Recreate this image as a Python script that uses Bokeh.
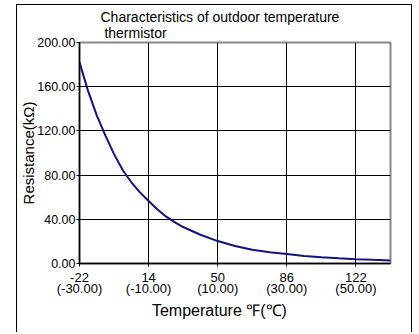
from bokeh.plotting import figure
from bokeh.models import Range1d, FixedTicker, LinearAxis
from bokeh.embed import file_html
from bokeh.resources import INLINE

# data (temperature in degC, resistance in kOhm)
temp_c = [-30, -27.5, -25, -22.5, -20, -17.5, -15, -12.5, -10, -7.5, -5, -2.5, 0,
          5, 10, 15, 20, 25, 30, 35, 40, 45, 50, 55, 60]
resistance = [182, 156, 134, 115.7, 99, 84.6, 73.5, 64.4, 56.5, 49.1, 42.6, 37.5, 33,
              26, 20.3, 15.8, 12.5, 10.2, 8.5, 6.8, 5.6, 4.7, 3.9, 3.3, 2.8]

x_ticks = [-30, -10, 10, 30, 50]
x_tick_labels_f = ["-22", "14", "50", "86", "122"]
x_tick_labels_c = ["(-30.00)", "(-10.00)", "(10.00)", "(30.00)", "(50.00)"]
y_ticks = [0, 40, 80, 120, 160, 200]
y_tick_labels = ["0.00", "40.00", "80.00", "120.00", "160.00", "200.00"]

FONT = "Liberation Sans"

p = figure(width=396, height=328, output_backend="svg", toolbar_location=None,
           x_range=Range1d(-30, 60), y_range=Range1d(0, 200),
           title="Characteristics of outdoor temperature\n\u00a0thermistor",
           min_border_left=62, min_border_right=23, min_border_top=36, min_border_bottom=70)
p.margin = (4, 0, 0, 16)
p.styles = {"border-left": "1.5px solid black", "border-top": "1.5px solid black",
            "border-right": "1.5px solid black"}

p.title.text_font = FONT
p.title.text_font_size = "14px"
p.title.text_font_style = "normal"
p.title.text_color = "black"
p.title.align = "left"
p.title.offset = 21
p.title.standoff = 3

p.line(temp_c, resistance, line_color="#121282", line_width=2)

p.xaxis.ticker = FixedTicker(ticks=x_ticks)
p.xaxis.major_label_overrides = dict(zip(x_ticks, x_tick_labels_f))
p.yaxis.ticker = FixedTicker(ticks=y_ticks)
p.yaxis.major_label_overrides = dict(zip(y_ticks, y_tick_labels))

c_axis = LinearAxis(ticker=FixedTicker(ticks=x_ticks),
                    major_label_overrides=dict(zip(x_ticks, x_tick_labels_c)))
p.add_layout(c_axis, "below")

for ax in (p.xaxis[0], p.yaxis[0], c_axis):
    ax.axis_line_color = "black"
    ax.axis_line_width = 1.5
    ax.major_tick_line_color = "black"
    ax.major_tick_out = 3
    ax.major_tick_in = 0
    ax.minor_tick_line_color = None
    ax.major_label_text_font = FONT
    ax.major_label_text_font_size = "13px"
    ax.major_label_text_color = "black"
    ax.axis_label_text_font = FONT
    ax.axis_label_text_font_size = "16px"
    ax.axis_label_text_font_style = "normal"
    ax.axis_label_text_color = "black"

c_axis.axis_line_color = None
c_axis.major_tick_line_color = None
c_axis.major_tick_out = 0
c_axis.major_label_standoff = -4
c_axis.axis_label = "Temperature \u2109(\u2103)" + "\u00a0" * 7
c_axis.axis_label_standoff = 3

p.xaxis[0].major_label_standoff = 6
p.yaxis[0].axis_label = "Resistance(k\u03a9)"
p.yaxis[0].axis_label_text_font_size = "15px"
p.yaxis[0].major_label_text_font_size = "12.5px"
p.yaxis[0].major_label_standoff = 1
p.yaxis[0].axis_label_standoff = -3

p.xgrid.ticker = FixedTicker(ticks=[-10, 10, 30, 50])
p.ygrid.ticker = FixedTicker(ticks=[40, 80, 120, 160])
for g in (p.xgrid, p.ygrid):
    g.grid_line_color = "black"
    g.grid_line_width = 1

p.outline_line_color = "#888888"
p.outline_line_width = 2
p.background_fill_color = "white"
p.border_fill_color = "white"

open("out.html", "w").write(file_html(p, INLINE))
